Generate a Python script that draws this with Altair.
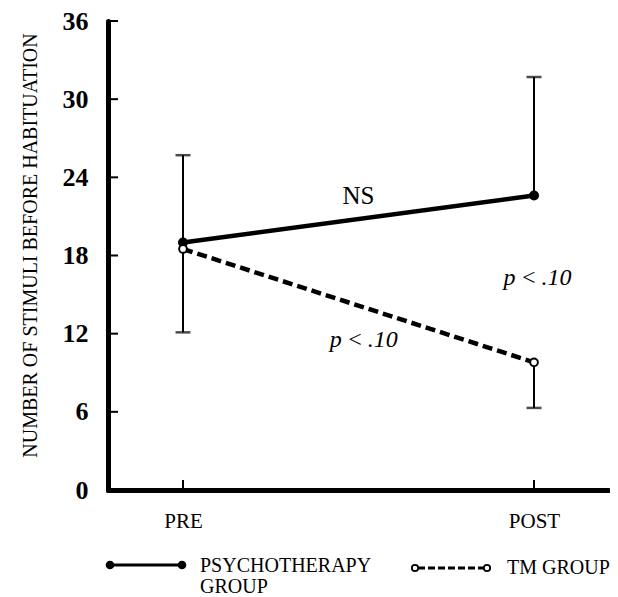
import altair as alt
import pandas as pd

# ---- data ----
phases = ["PRE", "POST"]
phase_idx = [0, 1]
psych_mean = [19.0, 22.6]
tm_mean = [18.5, 9.8]
psych_upper = [25.7, 31.7]
tm_lower = [12.1, 6.3]
y_ticks = [0, 6, 12, 18, 24, 30, 36]
annot_labels = ["NS", "p\u2009<\u2009.10", "p\u2009<\u2009.10"]
annot_x = [0.50, 1.01, 0.515]
annot_y = [22.6, 16.3, 11.5]
legend_labels = ["PSYCHOTHERAPY\nGROUP", "TM GROUP"]
y_title = "NUMBER OF STIMULI BEFORE HABITUATION"

W, H = 500, 469
SERIF = "Liberation Serif"

df = pd.DataFrame({
    "idx": phase_idx, "phase": phases,
    "psych": psych_mean, "tm": tm_mean,
    "psych_hi": psych_upper, "tm_lo": tm_lower,
})
ticks_df = pd.DataFrame({"v": [t for t in y_ticks if t > 0]})
ann = pd.DataFrame({"label": annot_labels, "x": annot_x, "y": annot_y})
one = pd.DataFrame({"a": [0]})

label_expr = " : ".join(
    [f"datum.value == {i} ? '{p}'" for i, p in zip(phase_idx, phases)] + ["''"]
)

xscale = alt.Scale(domain=[-0.2137, 1.2108], nice=False, zero=False)
yscale = alt.Scale(domain=[0, 36], nice=False)

xaxis = alt.Axis(
    values=phase_idx, labelExpr=label_expr, title=None, grid=False,
    ticks=False, tickSize=0, labelPadding=20, labelFont=SERIF, labelFontSize=21,
    labelColor="black", domainColor="black", domainWidth=5, domainCap="round",
)
yaxis = alt.Axis(
    values=y_ticks, title=y_title, grid=False, ticks=False, tickSize=0,
    labelPadding=20, labelFont=SERIF, labelFontSize=26, labelFontWeight="bold",
    labelColor="black", domainColor="black", domainWidth=5, domainCap="round",
    titleFont=SERIF, titleFontSize=20, titleFontWeight="normal", titleColor="black",
    titleX=-78, titleY=224, titleAngle=270, titleAlign="center", titleBaseline="middle",
)

base = alt.Chart(df)

axes = base.mark_point(opacity=0).encode(
    x=alt.X("idx:Q", scale=xscale, axis=xaxis),
    y=alt.Y("psych:Q", scale=yscale, axis=yaxis),
)

ytick_marks = alt.Chart(ticks_df).mark_rule(color="black", strokeWidth=2).encode(
    y=alt.Y("v:Q", scale=yscale), x=alt.value(0), x2=alt.value(10)
)
xtick_marks = base.mark_rule(color="black", strokeWidth=2).encode(
    x=alt.X("idx:Q", scale=xscale), y=alt.value(H), y2=alt.value(H - 10)
)

psych_line = base.mark_line(color="black", strokeWidth=4.5).encode(
    x=alt.X("idx:Q", scale=xscale), y=alt.Y("psych:Q", scale=yscale)
)
tm_line = base.mark_line(color="black", strokeWidth=4.5, strokeDash=[10, 5]).encode(
    x=alt.X("idx:Q", scale=xscale), y=alt.Y("tm:Q", scale=yscale)
)

err_up = base.mark_rule(color="black", strokeWidth=2).encode(
    x=alt.X("idx:Q", scale=xscale), y=alt.Y("psych:Q", scale=yscale), y2="psych_hi:Q"
)
err_dn = base.mark_rule(color="black", strokeWidth=2).encode(
    x=alt.X("idx:Q", scale=xscale), y=alt.Y("tm_lo:Q", scale=yscale), y2="tm:Q"
)
cap_up = base.mark_tick(color="black", orient="horizontal", size=15, thickness=2.5).encode(
    x=alt.X("idx:Q", scale=xscale), y=alt.Y("psych_hi:Q", scale=yscale)
)
cap_dn = base.mark_tick(color="black", orient="horizontal", size=15, thickness=2.5).encode(
    x=alt.X("idx:Q", scale=xscale), y=alt.Y("tm_lo:Q", scale=yscale)
)

psych_pts = base.mark_point(filled=True, color="black", size=100, opacity=1, shape="circle").encode(
    x=alt.X("idx:Q", scale=xscale), y=alt.Y("psych:Q", scale=yscale)
)
tm_pts = base.mark_point(filled=True, fill="white", stroke="black", strokeWidth=2,
                         size=60, opacity=1, shape="circle").encode(
    x=alt.X("idx:Q", scale=xscale), y=alt.Y("tm:Q", scale=yscale)
)

ns_text = alt.Chart(ann.iloc[[0]]).mark_text(
    font=SERIF, fontSize=25, color="black", align="center", baseline="middle"
).encode(x=alt.X("x:Q", scale=xscale), y=alt.Y("y:Q", scale=yscale), text="label:N")
p_text = alt.Chart(ann.iloc[1:]).mark_text(
    font=SERIF, fontSize=24, fontStyle="italic", color="black", align="center", baseline="middle"
).encode(x=alt.X("x:Q", scale=xscale), y=alt.Y("y:Q", scale=yscale), text="label:N")

# ---- legend drawn below the plot ----
LY1, LY2 = 544, 547
leg = alt.Chart(one)
leg_psych_line = leg.mark_rule(color="black", strokeWidth=3).encode(
    x=alt.value(2), x2=alt.value(74), y=alt.value(LY1))
leg_psych_pt1 = leg.mark_point(filled=True, color="black", size=75, opacity=1).encode(
    x=alt.value(2), y=alt.value(LY1))
leg_psych_pt2 = leg.mark_point(filled=True, color="black", size=75, opacity=1).encode(
    x=alt.value(74), y=alt.value(LY1))
leg_psych_txt = leg.mark_text(font=SERIF, fontSize=20, color="black", align="left",
                              baseline="middle", lineBreak="\n", lineHeight=21).encode(
    x=alt.value(92), y=alt.value(LY1 + 1), text=alt.value(legend_labels[0]))
leg_tm_line = leg.mark_rule(color="black", strokeWidth=3, strokeDash=[7, 3]).encode(
    x=alt.value(310), x2=alt.value(376), y=alt.value(LY2))
leg_tm_pt1 = leg.mark_point(filled=True, fill="white", stroke="black", strokeWidth=1.8,
                            size=40, opacity=1).encode(x=alt.value(307), y=alt.value(LY2))
leg_tm_pt2 = leg.mark_point(filled=True, fill="white", stroke="black", strokeWidth=1.8,
                            size=40, opacity=1).encode(x=alt.value(379), y=alt.value(LY2))
leg_tm_txt = leg.mark_text(font=SERIF, fontSize=20, color="black", align="left",
                           baseline="middle").encode(
    x=alt.value(399), y=alt.value(LY2), text=alt.value(legend_labels[1]))

chart = alt.layer(
    axes, ytick_marks, xtick_marks, err_up, err_dn, cap_up, cap_dn,
    psych_line, tm_line, psych_pts, tm_pts, ns_text, p_text,
    leg_psych_line, leg_psych_pt1, leg_psych_pt2, leg_psych_txt,
    leg_tm_line, leg_tm_pt1, leg_tm_pt2, leg_tm_txt,
).properties(
    width=W, height=H,
    autosize=alt.AutoSizeParams(type="none"),
    padding={"left": 100, "top": 13, "right": 2, "bottom": 106},
    background="white",
).configure_view(stroke=None)

chart.save("out.html", embed_options={"renderer": "svg", "actions": False})
